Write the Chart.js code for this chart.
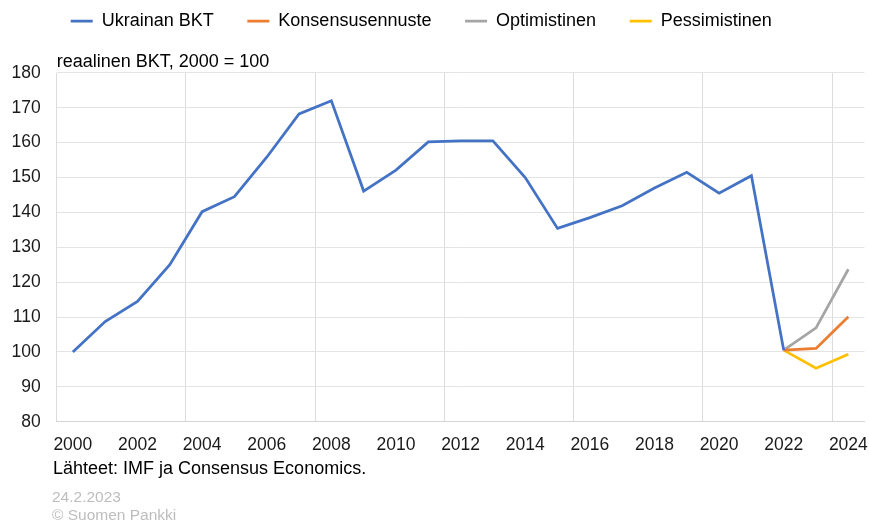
<!DOCTYPE html>
<html>
<head>
<meta charset="utf-8">
<script src="https://cdn.jsdelivr.net/npm/chart.js@4"></script>
<style>
  html, body { margin: 0; padding: 0; background: #ffffff; }
  #wrap { width: 869px; height: 525px; }
</style>
</head>
<body>
<div id="wrap"><canvas id="c" width="869" height="525"></canvas></div>
<script>
// ---- data ----
const years = ['2000','2001','2002','2003','2004','2005','2006','2007','2008','2009','2010','2011','2012',
               '2013','2014','2015','2016','2017','2018','2019','2020','2021','2022','2023','2024'];
const ukrainaBKT = [100, 108.7, 114.5, 125.0, 140.2, 144.5, 155.8, 168.2, 172.0, 146.1, 152.1, 160.2, 160.5,
                    160.5, 150.0, 135.4, 138.5, 141.9, 147.0, 151.5, 145.5, 150.5, 100.5, null, null];
const konsensus    = [null,null,null,null,null,null,null,null,null,null,null,null,null,
                      null,null,null,null,null,null,null,null,null, 100.5, 101.0, 110.1];
const optimistinen = [null,null,null,null,null,null,null,null,null,null,null,null,null,
                      null,null,null,null,null,null,null,null,null, 100.5, 106.9, 123.7];
const pessimistinen= [null,null,null,null,null,null,null,null,null,null,null,null,null,
                      null,null,null,null,null,null,null,null,null, 100.5, 95.3, 99.3];
const seriesNames = ['Ukrainan BKT', 'Konsensusennuste', 'Optimistinen', 'Pessimistinen'];
const yTicks = [80, 90, 100, 110, 120, 130, 140, 150, 160, 170, 180];
const titleText = 'reaalinen BKT, 2000 = 100';
const sourceText = 'Lähteet: IMF ja Consensus Economics.';
const dateText = '24.2.2023';
const copyrightText = '© Suomen Pankki';

const FONT = '"Liberation Sans", Arial, Helvetica, sans-serif';
const colors = ['#4472C4', '#ED7D31', '#A5A5A5', '#FFC000'];

// move the legend row so it starts where the reference legend starts
const legendShift = {
  id: 'legendShift',
  afterLayout(chart) {
    const lg = chart.legend;
    if (!lg) return;
    const dx = 70.7 - (lg.left + lg.options.labels.padding);
    lg.left += dx;
    lg.right += dx;
  }
};

const footerPlugin = {
  id: 'footerTexts',
  afterDraw(chart) {
    const ctx = chart.ctx;
    ctx.save();
    ctx.textAlign = 'left';
    ctx.textBaseline = 'middle';
    ctx.fillStyle = '#000000';
    ctx.font = '18px ' + FONT;
    ctx.fillText(sourceText, 53, 469);
    ctx.fillStyle = '#bdbdbd';
    ctx.font = '15.5px ' + FONT;
    ctx.fillText(dateText, 52, 497.5);
    ctx.fillText(copyrightText, 52, 516);
    ctx.restore();
  }
};

const mk = (i, data) => ({
  label: seriesNames[i],
  data: data,
  borderColor: colors[i],
  backgroundColor: colors[i],
  borderWidth: 2.75,
  pointRadius: 0,
  pointHoverRadius: 0,
  tension: 0,
  spanGaps: false
});

new Chart(document.getElementById('c'), {
  type: 'line',
  data: {
    labels: years,
    datasets: [mk(0, ukrainaBKT), mk(1, konsensus), mk(2, optimistinen), mk(3, pessimistinen)]
  },
  options: {
    responsive: false,
    devicePixelRatio: 1,
    animation: false,
    layout: { padding: { top: -21.6, left: -4.5, right: 4.5, bottom: 69.8 } },
    plugins: {
      tooltip: { enabled: false },
      legend: {
        display: true,
        position: 'top',
        align: 'start',
        labels: {
          font: { family: FONT, size: 18 },
          color: '#000000',
          usePointStyle: true,
          pointStyle: 'line',
          pointStyleWidth: 22,
          padding: 33.6
        }
      },
      title: {
        display: true,
        text: titleText,
        position: 'top',
        align: 'start',
        fullSize: false,
        weight: 500,
        color: '#000000',
        font: { family: FONT, size: 18, weight: 'normal' },
        padding: { top: 11.2, bottom: 0 }
      }
    },
    scales: {
      x: {
        type: 'category',
        offset: true,
        grid: {
          offset: true,
          drawTicks: true,
          tickLength: 12.5,
          tickColor: 'rgba(0,0,0,0)',
          color: (c) => (c.index % 4 === 0 || c.index === years.length) ? '#dcdcdc' : 'rgba(0,0,0,0)',
          lineWidth: 1
        },
        border: { display: true, color: '#d4d4d4' },
        ticks: {
          autoSkip: false,
          maxRotation: 0,
          minRotation: 0,
          padding: 0,
          color: '#1a1a1a',
          font: { family: FONT, size: 17.5 },
          callback: function(v, i) { return i % 2 === 0 ? years[i] : ''; }
        }
      },
      y: {
        min: yTicks[0],
        max: yTicks[yTicks.length - 1],
        afterBuildTicks: (axis) => { axis.ticks = yTicks.map(v => ({ value: v })); },
        grid: { drawTicks: false, color: '#e4e4e4', lineWidth: 1 },
        border: { display: false },
        ticks: {
          padding: 16,
          color: '#1a1a1a',
          font: { family: FONT, size: 17.5 }
        }
      }
    }
  },
  plugins: [legendShift, footerPlugin]
});
</script>
</body>
</html>
